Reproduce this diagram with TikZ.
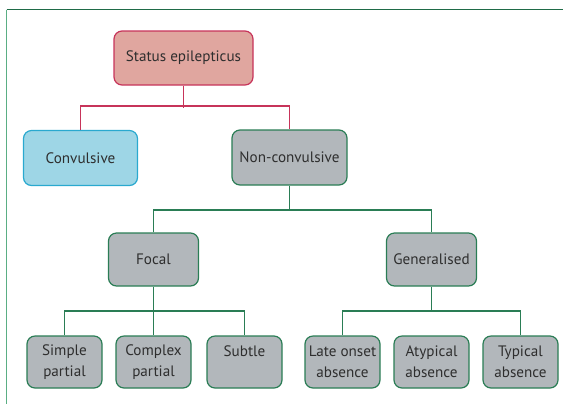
\documentclass[tikz,border=0pt]{standalone}
\usepackage{fontspec}
\setmainfont{PT Sans}
\usepackage{tikz}
\usetikzlibrary{calc}
\definecolor{rosefill}{HTML}{E0A69F}
\definecolor{roseline}{HTML}{C7345A}
\definecolor{bluefill}{HTML}{9ED6E6}
\definecolor{blueline}{HTML}{2AA9CF}
\definecolor{greyfill}{HTML}{B2B7BB}
\definecolor{greenline}{HTML}{2A7D55}
\definecolor{frametop}{HTML}{1F6B47}
\definecolor{frameleft}{HTML}{5AAE84}
\definecolor{inkgrey}{HTML}{2E2E2E}
\tikzset{
  box/.style={draw,line width=1.2bp,rounded corners=8bp,text=inkgrey,align=center,
    font=\fontsize{15.2}{21}\selectfont,inner sep=0pt},
  greybox/.style={box,fill=greyfill,draw=greenline},
  leaf/.style={greybox,minimum width=75bp,minimum height=52bp},
  rosewire/.style={roseline,line width=1.2bp},
  greenwire/.style={greenline,line width=1.2bp}
}

\begin{document}
\begin{tikzpicture}[x=1bp,y=-1bp]
\useasboundingbox (0,0) rectangle (563,404);
\draw[frametop,line width=1.5bp](6.5,9.5)--(563,9.5);
\draw[frameleft,line width=1.5bp](6.5,9.5)--(6.5,404);
\node[box,fill=rosefill,draw=roseline,minimum width=139bp,minimum height=54bp](status)at(183.5,58){Status epilepticus};
\node[box,fill=bluefill,draw=blueline,minimum width=114bp,minimum height=55bp](conv)at(80.5,158){Convulsive};
\node[greybox,minimum width=115bp,minimum height=55bp](nonconv)at(289.5,157.5){Non-convulsive};
\node[greybox,minimum width=90bp,minimum height=53bp](focal)at(153.5,259.5){Focal};
\node[greybox,minimum width=90bp,minimum height=53bp](general)at(431.5,259.5){Generalised};
\node[leaf](simple)at(64.5,362){Simple\\partial};
\node[leaf](complex)at(153.5,362){Complex\\partial};
\node[leaf](subtle)at(244.5,362){Subtle\\~};
\node[leaf](lateonset)at(342.5,362){Late onset\\absence};
\node[leaf](atypical)at(431.5,362){Atypical\\absence};
\node[leaf](typical)at(520.5,362){Typical\\absence};
\draw[rosewire](status.south)--++(0,22);
\draw[rosewire](conv.north)--++(0,-24)-|(nonconv.north);
\draw[greenwire](nonconv.south)--++(0,25);
\draw[greenwire](focal.north)--++(0,-22.5)-|(general.north);
\draw[greenwire](focal.south)--(complex.north);
\draw[greenwire](simple.north)--++(0,-24.5)-|(subtle.north);
\draw[greenwire](general.south)--++(0,25);
\draw[greenwire](lateonset.north)--++(0,-24.5)-|(typical.north);
\end{tikzpicture}
\end{document}
